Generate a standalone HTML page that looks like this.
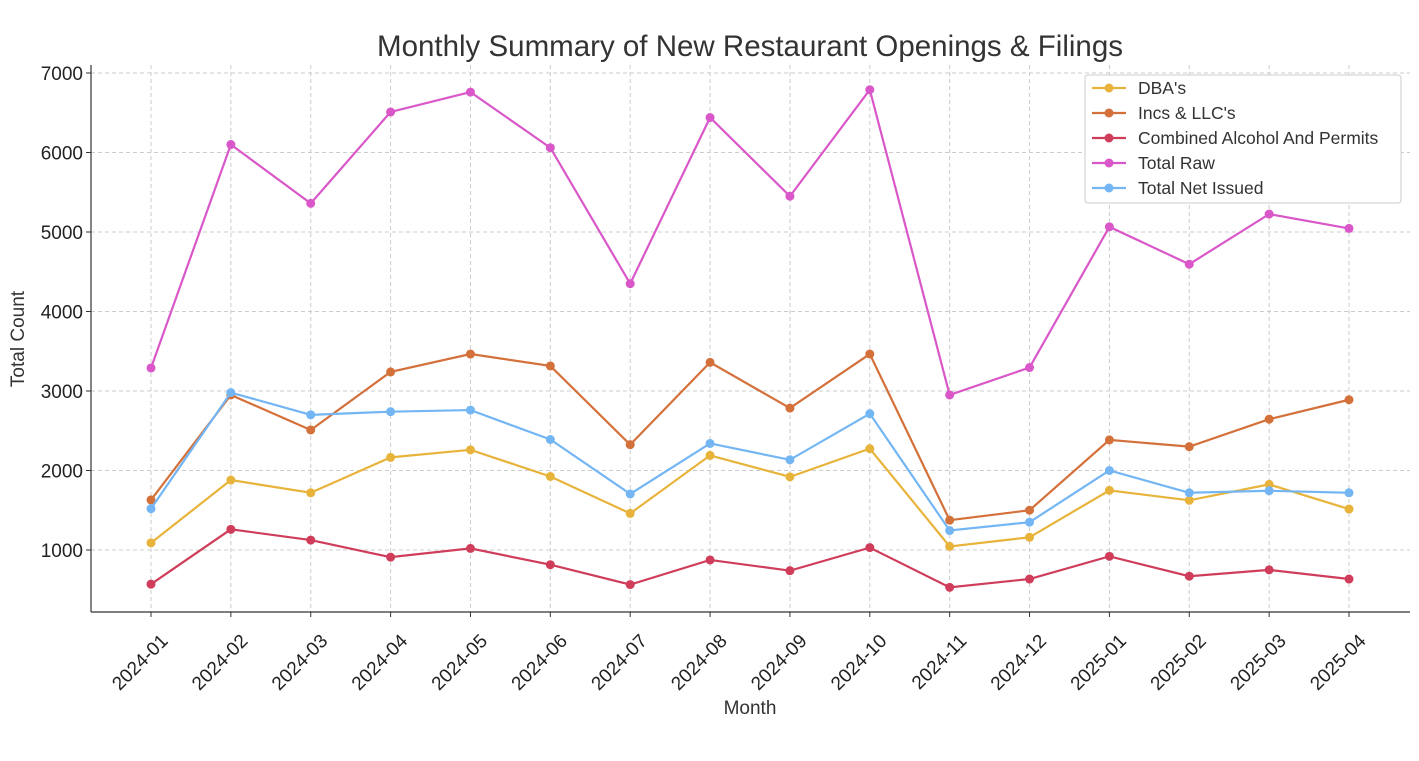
<!DOCTYPE html>
<html><head><meta charset="utf-8">
<style>
body{margin:0;background:#fff;}
svg text{font-family:"Liberation Sans","DejaVu Sans",sans-serif;}
</style></head>
<body>
<svg id="chart" width="1419" height="756" xmlns="http://www.w3.org/2000/svg">
<rect width="1419" height="756" fill="#fff"/>
<text x="750" y="56" text-anchor="middle" font-size="29.5" fill="#333">Monthly Summary of New Restaurant Openings &amp; Filings</text>
<g id="grid"></g>
<g id="axes"></g>
<g id="series"></g>
<text x="750" y="714" text-anchor="middle" font-size="19" fill="#333">Month</text>
<text transform="translate(24,339) rotate(-90)" text-anchor="middle" font-size="19" fill="#333">Total Count</text>
<g id="legend"></g>
</svg>
<script>
const months=["2024-01","2024-02","2024-03","2024-04","2024-05","2024-06","2024-07","2024-08","2024-09","2024-10","2024-11","2024-12","2025-01","2025-02","2025-03","2025-04"];
const dba=[1090,1880,1720,2165,2260,1925,1460,2190,1920,2275,1045,1160,1750,1625,1825,1515];
const incs=[1630,2950,2510,3240,3465,3315,2325,3360,2785,3465,1375,1500,2385,2300,2645,2890];
const alcohol=[570,1260,1125,910,1020,815,565,875,740,1030,530,635,920,670,750,635];
const totalRaw=[3290,6100,5360,6510,6760,6060,4350,6440,5450,6790,2950,3295,5065,4595,5225,5045];
const totalNet=[1520,2980,2700,2740,2760,2390,1705,2340,2135,2715,1245,1350,2000,1720,1745,1720];
const yTicks=[1000,2000,3000,4000,5000,6000,7000];
const seriesNames=["DBA's","Incs & LLC's","Combined Alcohol And Permits","Total Raw","Total Net Issued"];
const seriesData=[dba,incs,alcohol,totalRaw,totalNet];
const colors=["#e8b33a","#d4703a","#cf3d5a","#d957c8","#74b6f4"];
const NS="http://www.w3.org/2000/svg";
const L=91,R=1410,T=65,B=612;
const x=i=>151+i*(1349-151)/(months.length-1);
const y=v=>629.5-v*0.0795;
function mk(t,a,p){const e=document.createElementNS(NS,t);for(const k in a)e.setAttribute(k,a[k]);p.appendChild(e);return e;}
const grid=document.getElementById('grid'),axes=document.getElementById('axes'),ser=document.getElementById('series'),leg=document.getElementById('legend');
yTicks.forEach(v=>{
 const g=mk('line',{x1:L,x2:R,y1:y(v),y2:y(v),stroke:'#ccc','stroke-dasharray':'4,3'},grid);
 
 
 const t=mk('text',{x:L-8,y:y(v)+7,'text-anchor':'end','font-size':19,fill:'#222'},axes);
 t.textContent=v;
 
 
 mk('line',{x1:L-5,x2:L,y1:y(v),y2:y(v),stroke:'#333'},axes);
});
months.forEach((m,i)=>{
 const g=mk('line',{x1:x(i),x2:x(i),y1:T,y2:B,stroke:'#ccc','stroke-dasharray':'4,3'},grid);
 
 
 mk('line',{x1:x(i),x2:x(i),y1:B,y2:B+5,stroke:'#333'},axes);
 const t=mk('text',{x:0,y:0,'text-anchor':'end','font-size':19,fill:'#222',transform:`translate(${x(i)+18},${B+30}) rotate(-45)`},axes);
 t.textContent=m;
 
 
});
mk('line',{x1:L,x2:L,y1:T,y2:B,stroke:'#333','stroke-width':1.2},axes);
mk('line',{x1:L,x2:R,y1:B,y2:B,stroke:'#333','stroke-width':1.2},axes);
seriesData.forEach((d,s)=>{
 const g=mk('g',{},ser);
 
 
 const p=mk('polyline',{points:d.map((v,i)=>x(i)+','+y(v)).join(' '),fill:'none',stroke:colors[s],'stroke-width':2.2},g);
 
 
 d.forEach((v,i)=>{
  const c=mk('circle',{cx:x(i),cy:y(v),r:4.5,fill:colors[s]},g);
  
  
 });
});
mk('rect',{x:1085,y:75,width:316,height:128,fill:'#fff',stroke:'#ccc',rx:3},leg);
seriesNames.forEach((n,s)=>{
 const yy=88+s*25;
 const g=mk('g',{},leg);
 
 
 mk('line',{x1:1092,x2:1126,y1:yy,y2:yy,stroke:colors[s],'stroke-width':2.2},g);
 mk('circle',{cx:1109,cy:yy,r:4.5,fill:colors[s]},g);
 const t=mk('text',{x:1138,y:yy+6,'font-size':17.5,fill:'#333'},g);
 t.textContent=n;
});
</script>
</body></html>
